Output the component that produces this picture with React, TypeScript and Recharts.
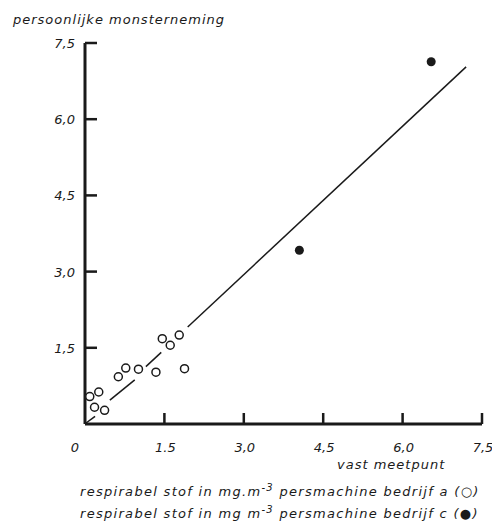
import { ReferenceLine, Scatter, ScatterChart, XAxis, YAxis } from "recharts";

const xTicks = [0, 1.5, 3.0, 4.5, 6.0, 7.5];
const xTickLabels = ["0", "1.5", "3,0", "4,5", "6,0", "7,5"];
const yTicks = [0, 1.5, 3.0, 4.5, 6.0, 7.5];
const yTickLabels = ["", "1,5", "3,0", "4,5", "6,0", "7,5"];

// bedrijf a (open circles)
const bedrijfAx = [0.09, 0.26, 0.18, 0.37, 0.63, 0.77, 1.01, 1.34, 1.46, 1.61, 1.78, 1.88];
const bedrijfAy = [0.54, 0.63, 0.33, 0.27, 0.93, 1.1, 1.08, 1.02, 1.68, 1.55, 1.75, 1.09];
// bedrijf c (filled)
const bedrijfCx = [4.05, 6.54];
const bedrijfCy = [3.42, 7.13];
// hand-drawn fit line, broken where it passes the circles
const lineStartX = [0.02, 0.47, 1.15, 1.94];
const lineStartY = [0.02, 0.47, 1.13, 1.91];
const lineEndX = [0.19, 0.94, 1.44, 7.2];
const lineEndY = [0.15, 0.87, 1.41, 7.03];

const ink = "#1a1a1a";
const font = "'DejaVu Sans', sans-serif";

const dataA = bedrijfAx.map((x, i) => ({ x, y: bedrijfAy[i] }));
const dataC = bedrijfCx.map((x, i) => ({ x, y: bedrijfCy[i] }));

function XTick(props: any) {
  const { x, y, index } = props;
  return (
    <g>
      {index > 0 && <rect x={x - 1.25} y={y - 11} width={2.5} height={11} fill={ink} />}
      <text
        x={index === 0 ? x - 10 : x + 1}
        y={y + 28}
        textAnchor="middle"
        fontSize={13}
        fontStyle="italic"
        fontFamily={font}
        fill={ink}
      >
        {xTickLabels[index]}
      </text>
    </g>
  );
}

function YTick(props: any) {
  const { x, y, index } = props;
  if (index === 0) return <g />;
  return (
    <g>
      <rect x={x} y={y - 1.25} width={12} height={2.5} fill={ink} />
      <text
        x={x - 10}
        y={y + 5}
        textAnchor="end"
        fontSize={13}
        fontStyle="italic"
        fontFamily={font}
        fill={ink}
      >
        {yTickLabels[index]}
      </text>
    </g>
  );
}

const OpenDot = (p: any) => (
  <circle cx={p.cx} cy={p.cy} r={4} fill="#fff" stroke={ink} strokeWidth={1.5} />
);
const FullDot = (p: any) => <circle cx={p.cx} cy={p.cy} r={4.5} fill={ink} />;

const textStyle = {
  position: "absolute" as const,
  fontFamily: font,
  fontStyle: "italic",
  fontSize: 13,
  color: ink,
  letterSpacing: 1,
  whiteSpace: "nowrap" as const,
};

export default function App() {
  return (
    <div style={{ position: "absolute", left: 0, top: 0, width: 492, height: 524, background: "#fff" }}>
      <div style={{ ...textStyle, left: 13, top: 12 }}>persoonlijke monsterneming</div>
      <ScatterChart width={492} height={524} margin={{ top: 43, right: 10, bottom: 99, left: 84 }}>
        <XAxis
          type="number"
          dataKey="x"
          domain={[0, 7.5]}
          ticks={xTicks}
          interval={0}
          height={1}
          tickSize={0}
          tickMargin={0}
          tick={<XTick />}
          axisLine={{ stroke: ink, strokeWidth: 3 }}
          tickLine={false}
        />
        <YAxis
          type="number"
          dataKey="y"
          domain={[0, 7.5]}
          ticks={yTicks}
          interval={0}
          width={1}
          tickSize={0}
          tickMargin={0}
          tick={<YTick />}
          axisLine={{ stroke: ink, strokeWidth: 3 }}
          tickLine={false}
        />
        {lineStartX.map((sx, i) => (
          <ReferenceLine
            key={i}
            segment={[
              { x: sx, y: lineStartY[i] },
              { x: lineEndX[i], y: lineEndY[i] },
            ]}
            stroke={ink}
            strokeWidth={1.5}
          />
        ))}
        <Scatter data={dataA} shape={OpenDot} isAnimationActive={false} />
        <Scatter data={dataC} shape={FullDot} isAnimationActive={false} />
      </ScatterChart>
      <div style={{ ...textStyle, left: 337, top: 457 }}>vast meetpunt</div>
      <div style={{ ...textStyle, left: 80, top: 484, letterSpacing: 1.3 }}>
        respirabel stof in mg.m<sup style={{ fontSize: 10, lineHeight: 0 }}>-3</sup> persmachine bedrijf a (○)
      </div>
      <div style={{ ...textStyle, left: 80, top: 506, letterSpacing: 1.3 }}>
        respirabel stof in mg m<sup style={{ fontSize: 10, lineHeight: 0 }}>-3</sup> persmachine bedrijf c (●)
      </div>
    </div>
  );
}
